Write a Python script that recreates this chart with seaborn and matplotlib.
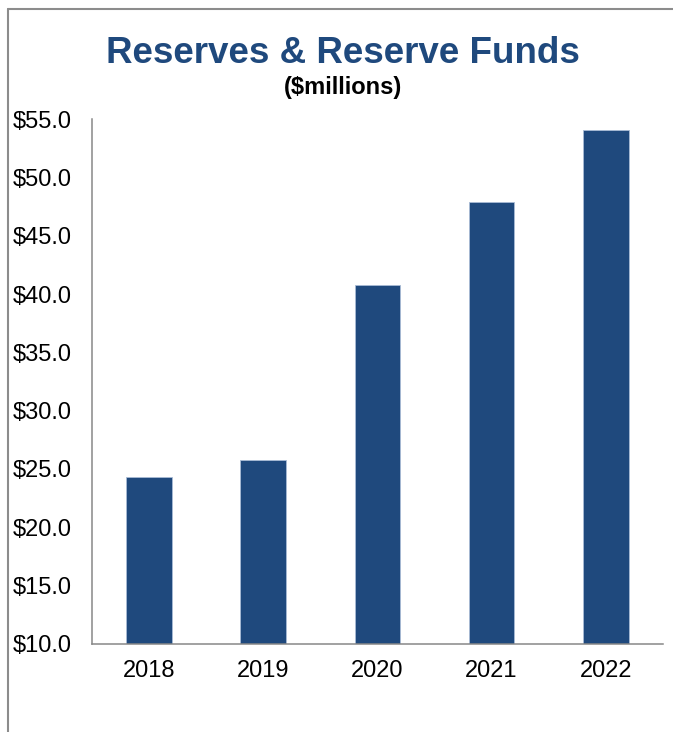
import matplotlib
matplotlib.use("Agg")
import matplotlib.pyplot as plt
from matplotlib.lines import Line2D
from matplotlib.ticker import FixedLocator, FuncFormatter
import seaborn as sns
import pandas as pd

# Reserves & reserve funds by year ($ millions)
years = ["2018", "2019", "2020", "2021", "2022"]
reserves = [24.3, 25.8, 40.8, 47.9, 54.1]
y_ticks = [10, 15, 20, 25, 30, 35, 40, 45, 50, 55]

title_text = "Reserves & Reserve Funds"
subtitle_text = "($millions)"

BAR_BLUE = "#1F497D"
AXIS_GREY = "#878787"
FRAME_GREY = "#8C8C8C"

sns.set_style("white")
plt.rcParams["font.family"] = ["Liberation Sans", "DejaVu Sans"]

df = pd.DataFrame({"year": years, "reserves": reserves})

fig = plt.figure(figsize=(6.73, 7.32), dpi=100)
ax = fig.add_axes([0.1363, 0.1206, 0.8488, 0.7164])

sns.barplot(data=df, x="year", y="reserves", color=BAR_BLUE, width=0.4,
            saturation=1, edgecolor="#A9BCD6", linewidth=0.6, ax=ax)

ax.set_ylim(10, 55)
ax.set_xlim(-0.5, len(years) - 0.5)
ax.yaxis.set_major_locator(FixedLocator(y_ticks))
ax.yaxis.set_major_formatter(FuncFormatter(lambda v, _: f"${v:.1f}"))
ax.set_xlabel("")
ax.set_ylabel("")

# Category labels at bar centres; tick marks at category boundaries
ax.set_xticks(range(len(years)))
ax.set_xticklabels(years)
ax.set_xticks([i - 0.5 for i in range(len(years) + 1)], minor=True)
ax.tick_params(axis="x", which="major", length=0, pad=12, labelsize=17,
               labelcolor="black")
ax.tick_params(axis="x", which="minor", length=4.5, width=1.1,
               color=AXIS_GREY, direction="out")
ax.tick_params(axis="y", which="major", length=4.5, width=1.1,
               color=AXIS_GREY, direction="out", pad=10, labelsize=17,
               labelcolor="black")

for side in ("top", "right"):
    ax.spines[side].set_visible(False)
for side in ("left", "bottom"):
    ax.spines[side].set_color(AXIS_GREY)
    ax.spines[side].set_linewidth(1.1)

# Titles
fig.text(343 / 673, 1 - 63 / 732, title_text, ha="center", va="baseline",
         fontsize=26.5, fontweight="bold", color=BAR_BLUE)
fig.text(343 / 673, 1 - 94 / 732, subtitle_text, ha="center", va="baseline",
         fontsize=17, fontweight="bold", color="black")

# Outer frame (top and left edges)
fx, fy = 7.5 / 673, 1 - 8.5 / 732
fig.add_artist(Line2D([fx, 1.0], [fy, fy], transform=fig.transFigure,
                      color=FRAME_GREY, linewidth=1.5))
fig.add_artist(Line2D([fx, fx], [0.0, fy], transform=fig.transFigure,
                      color=FRAME_GREY, linewidth=1.5))

fig.savefig("out.png", dpi=100, facecolor="white")
